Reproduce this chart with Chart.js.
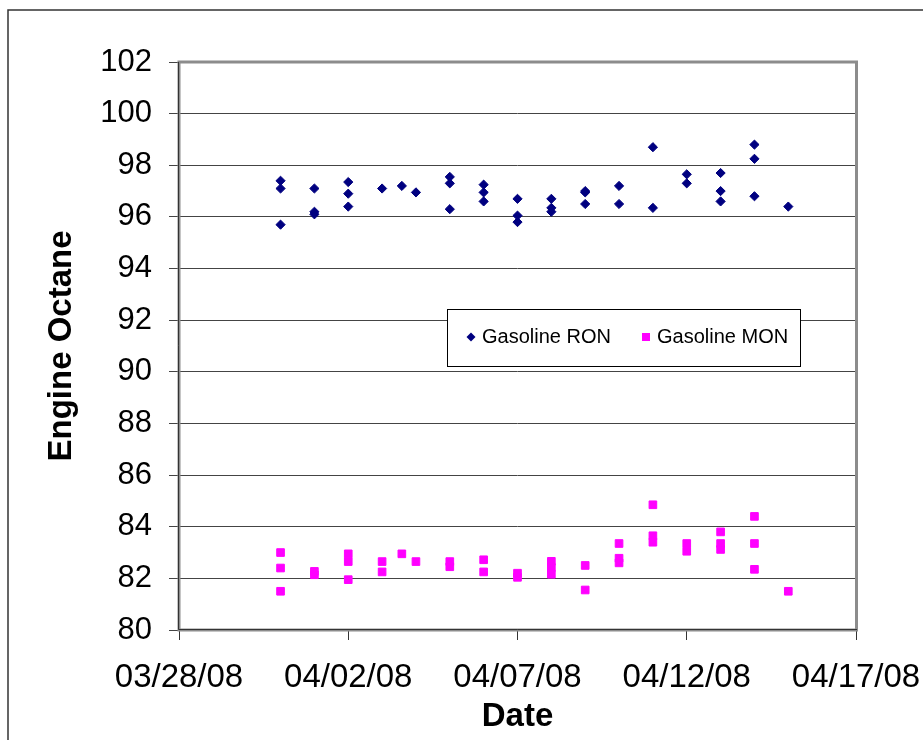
<!DOCTYPE html>
<html>
<head>
<meta charset="utf-8">
<script src="https://cdn.jsdelivr.net/npm/chart.js@4"></script>
<style>
    body { margin: 0; background: #fff; }
    #wrap { width: 923px; height: 740px; }
</style>
</head>
<body>
<div id="wrap"><canvas id="grafico" width="923" height="740"></canvas></div>
<script>
// dados (data mm/dd/yy, algumas com hora)
const ronDatas = [
    '03/31/08', '03/31/08', '03/31/08',
    '04/01/08', '04/01/08', '04/01/08',
    '04/02/08', '04/02/08', '04/02/08',
    '04/03/08', '04/03/08 14:00', '04/04/08',
    '04/05/08', '04/05/08', '04/05/08',
    '04/06/08', '04/06/08', '04/06/08',
    '04/07/08', '04/07/08', '04/07/08',
    '04/08/08', '04/08/08', '04/08/08',
    '04/09/08', '04/09/08', '04/09/08',
    '04/10/08', '04/10/08',
    '04/11/08', '04/11/08',
    '04/12/08', '04/12/08',
    '04/13/08', '04/13/08', '04/13/08',
    '04/14/08', '04/14/08', '04/14/08',
    '04/15/08'
]
const ronValores = [
    97.4, 97.1, 95.7,
    97.1, 96.2, 96.1,
    97.35, 96.9, 96.4,
    97.1, 97.2, 96.95,
    97.55, 97.3, 96.3,
    97.25, 96.95, 96.6,
    96.7, 96.05, 95.8,
    96.7, 96.35, 96.2,
    97.0, 96.95, 96.5,
    97.2, 96.5,
    98.7, 96.35,
    97.65, 97.3,
    97.7, 97.0, 96.6,
    98.8, 98.25, 96.8,
    96.4
]
const monDatas = [
    '03/31/08', '03/31/08', '03/31/08',
    '04/01/08', '04/01/08',
    '04/02/08', '04/02/08', '04/02/08',
    '04/03/08', '04/03/08', '04/03/08 14:00', '04/04/08',
    '04/05/08', '04/05/08',
    '04/06/08', '04/06/08',
    '04/07/08', '04/07/08',
    '04/08/08', '04/08/08', '04/08/08',
    '04/09/08', '04/09/08',
    '04/10/08', '04/10/08', '04/10/08',
    '04/11/08', '04/11/08', '04/11/08',
    '04/12/08', '04/12/08',
    '04/13/08', '04/13/08', '04/13/08',
    '04/14/08', '04/14/08', '04/14/08',
    '04/15/08'
]
const monValores = [
    83.0, 82.4, 81.5,
    82.27, 82.14,
    82.95, 82.65, 81.95,
    82.65, 82.25, 82.95, 82.65,
    82.65, 82.45,
    82.72, 82.25,
    82.2, 82.04,
    82.66, 82.42, 82.16,
    82.5, 81.55,
    83.35, 82.78, 82.6,
    84.85, 83.65, 83.4,
    83.35, 83.05,
    83.8, 83.35, 83.12,
    84.4, 83.35, 82.35,
    81.5
]
const xTicks = ['03/28/08', '04/02/08', '04/07/08', '04/12/08', '04/17/08']
const yMin = 80, yMax = 102, yPasso = 2

const DIA = 86400000
const BASE = Date.UTC(2008, 2, 28)

function diaDe(s) {
    const [data, hora] = s.split(' ')
    const [m, d, a] = data.split('/').map(Number)
    const [hh, mm] = (hora || '0:0').split(':').map(Number)
    return (Date.UTC(2000 + a, m - 1, d, hh, mm) - BASE) / DIA
}

const pontos = (datas, valores) => datas.map((s, i) => ({ x: diaDe(s), y: valores[i] }))

const fonte = 'Liberation Sans, Arial, sans-serif'

// fundo + borda externa do gráfico
const bordaExterna = {
    id: 'bordaExterna',
    beforeDraw(chart) {
        const c = chart.ctx
        c.save()
        c.fillStyle = '#fff'
        c.fillRect(0, 0, chart.width, chart.height)
        c.strokeStyle = '#333'
        c.lineWidth = 1.5
        c.beginPath()
        c.moveTo(8, chart.height)
        c.lineTo(8, 10)
        c.lineTo(chart.width, 10)
        c.stroke()
        c.restore()
    }
}

// borda cinza da área de plotagem + eixos escuros
const bordaPlot = {
    id: 'bordaPlot',
    beforeDatasetsDraw(chart) {
        const { left, right, top, bottom } = chart.chartArea
        const c = chart.ctx
        c.save()
        c.strokeStyle = '#8c8c8c'
        c.lineWidth = 3
        c.strokeRect(left, top, right - left + 0.5, bottom - top)
        c.strokeStyle = '#333'
        c.lineWidth = 1
        c.beginPath()
        c.moveTo(left - 0.5, top)
        c.lineTo(left - 0.5, bottom - 0.5)
        c.lineTo(right + 1, bottom - 0.5)
        c.stroke()
        c.restore()
    }
}

// legenda dentro da área de plotagem
const legendaCaixa = {
    id: 'legendaCaixa',
    afterDatasetsDraw(chart) {
        const c = chart.ctx
        const bx = 447, by = 309, bw = 353, bh = 57
        c.save()
        c.fillStyle = '#fff'
        c.fillRect(bx, by, bw, bh)
        c.strokeStyle = '#000'
        c.lineWidth = 1
        c.strokeRect(bx + 0.5, by + 0.5, bw, bh)
        const cy = by + 28
        const ds = chart.data.datasets
        // losango
        c.fillStyle = ds[0].backgroundColor
        c.beginPath()
        c.moveTo(471, cy - 4.5)
        c.lineTo(475.5, cy)
        c.lineTo(471, cy + 4.5)
        c.lineTo(466.5, cy)
        c.closePath()
        c.fill()
        // quadrado
        c.fillStyle = ds[1].backgroundColor
        c.fillRect(642, cy - 4, 8, 8)
        c.fillStyle = '#000'
        c.font = '20px ' + fonte
        c.textBaseline = 'middle'
        c.fillText(ds[0].label, 482, cy)
        c.fillText(ds[1].label, 657, cy)
        c.restore()
    }
}

new Chart(document.getElementById('grafico'), {
    type: 'scatter',
    data: {
        datasets: [{
            label: 'Gasoline RON',
            data: pontos(ronDatas, ronValores),
            pointStyle: 'rectRot',
            pointRadius: 4.6,
            pointHoverRadius: 4.6,
            backgroundColor: '#000080',
            borderColor: '#000080',
            borderWidth: 1,
        }, {
            label: 'Gasoline MON',
            data: pontos(monDatas, monValores),
            pointStyle: 'rect',
            pointRadius: 5.4,
            pointHoverRadius: 5.4,
            backgroundColor: '#ff00ff',
            borderColor: '#ff00ff',
            borderWidth: 1,
        }]
    },
    options: {
        responsive: false,
        animation: false,
        devicePixelRatio: 1,
        layout: { padding: { top: 62, right: 67, left: 0, bottom: 0 } },
        plugins: { legend: { display: false }, tooltip: { enabled: false } },
        scales: {
            x: {
                type: 'linear',
                min: diaDe(xTicks[0]),
                max: diaDe(xTicks[xTicks.length - 1]),
                afterBuildTicks: s => { s.ticks = xTicks.map(t => ({ value: diaDe(t) })) },
                afterFit: s => { s.height = 110; s.paddingLeft = 0; s.paddingRight = 0 },
                grid: { drawOnChartArea: false, color: '#333', tickLength: 10 },
                border: { display: false },
                ticks: {
                    color: '#000',
                    font: { family: fonte, size: 33 },
                    padding: 18,
                    maxRotation: 0,
                    autoSkip: false,
                    callback: (v, i) => xTicks[i]
                },
                title: {
                    display: true,
                    text: 'Date',
                    color: '#000',
                    font: { family: fonte, size: 33, weight: 'bold' },
                    padding: { top: 0, bottom: 3 }
                }
            },
            y: {
                min: yMin,
                max: yMax,
                afterFit: s => { s.width = 179; s.paddingTop = 0; s.paddingBottom = 0 },
                grid: { color: '#444', tickLength: 10 },
                border: { display: false },
                ticks: {
                    stepSize: yPasso,
                    color: '#000',
                    font: { family: fonte, size: 31 },
                    padding: 17
                },
                title: {
                    display: true,
                    text: 'Engine Octane',
                    color: '#000',
                    font: { family: fonte, size: 33, weight: 'bold' },
                    padding: { top: 42, bottom: 0 }
                }
            }
        }
    },
    plugins: [bordaExterna, bordaPlot, legendaCaixa]
})
</script>
</body>
</html>
